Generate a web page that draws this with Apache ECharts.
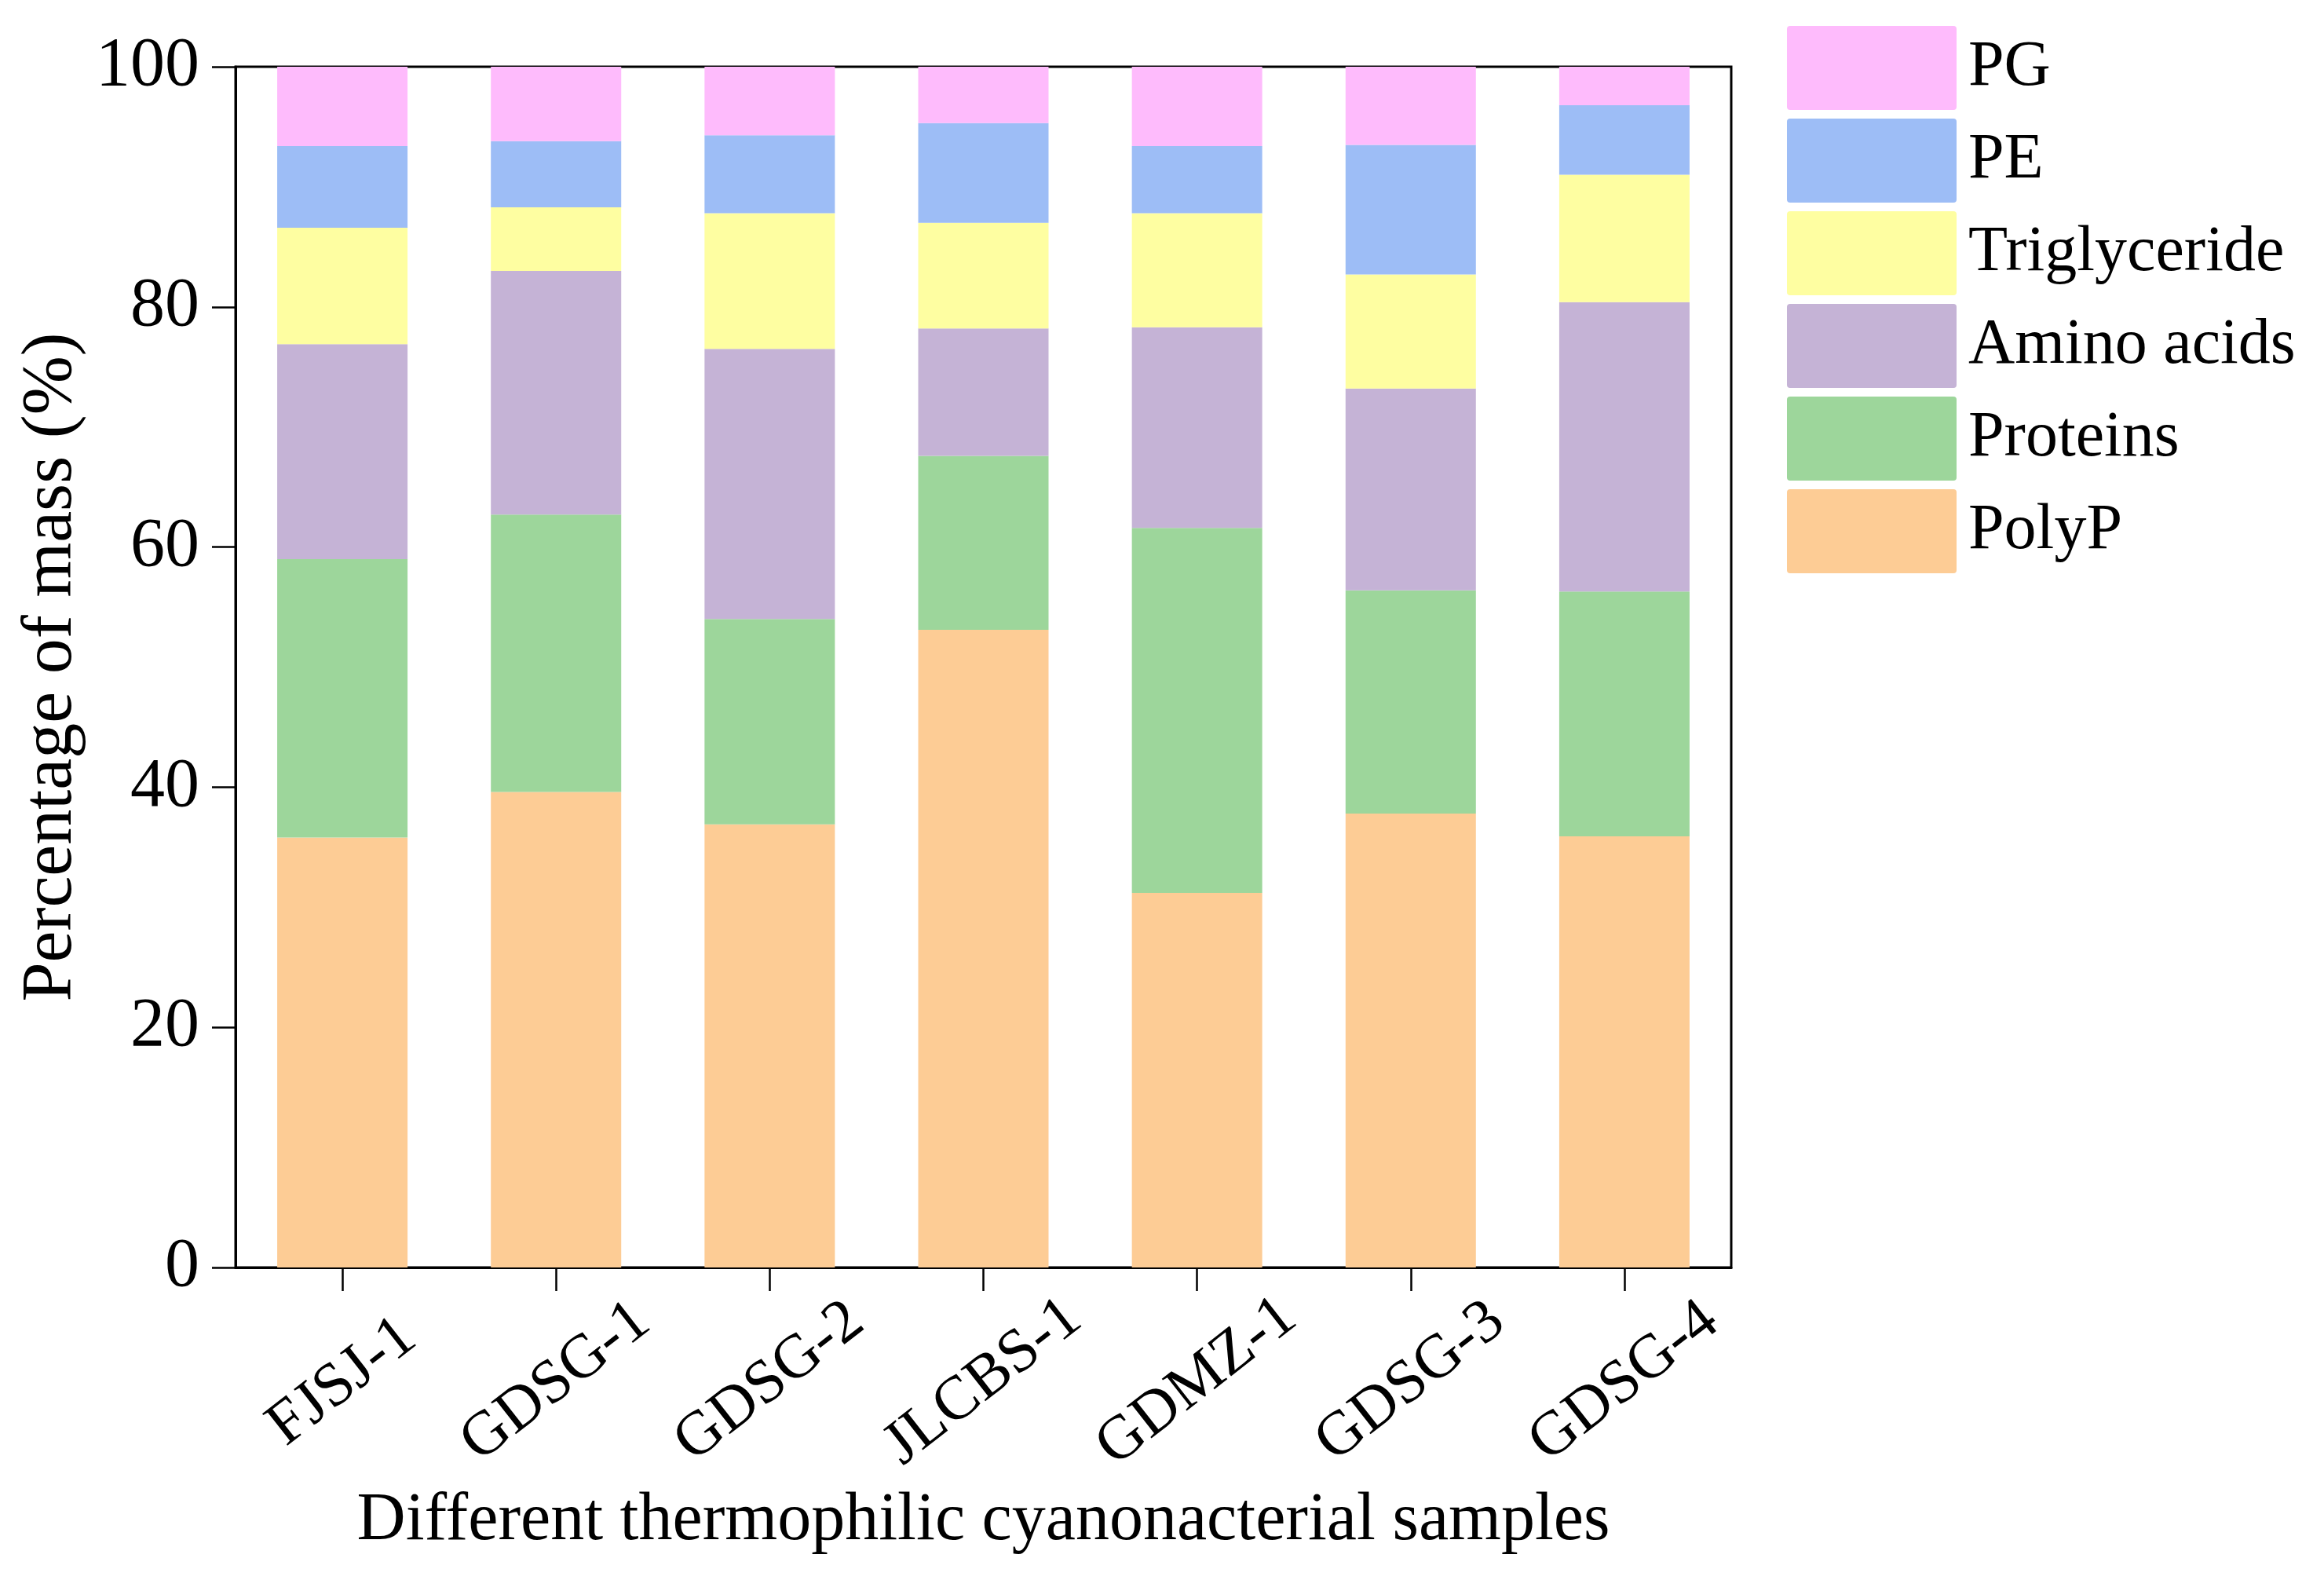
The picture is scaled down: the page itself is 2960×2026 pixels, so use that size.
<!DOCTYPE html>
<html>
<head>
<meta charset="utf-8">
<script src="https://cdn.jsdelivr.net/npm/echarts@6/dist/echarts.min.js"></script>
<style>
html,body{margin:0;padding:0;background:#fff;}
#chart{width:2960px;height:2026px;}
</style>
</head>
<body>
<div id="chart"></div>
<script>
const categories = ['FJSJ-1','GDSG-1','GDSG-2','JLCBS-1','GDMZ-1','GDSG-3','GDSG-4'];
const polyP      = [35.8, 39.6, 36.9, 53.1, 31.2, 37.8, 35.9];
const proteins   = [23.2, 23.1, 17.1, 14.5, 30.4, 18.6, 20.4];
const aminoAcids = [17.9, 20.3, 22.5, 10.6, 16.7, 16.8, 24.1];
const triglyceride = [9.7, 5.3, 11.3, 8.8, 9.5, 9.5, 10.6];
const pe         = [6.8, 5.5, 6.5, 8.3, 5.6, 10.8, 5.8];
const pg         = [6.6, 6.2, 5.7, 4.7, 6.6, 6.5, 3.2];
const legendOrder = ['PG','PE','Triglyceride','Amino acids','Proteins','PolyP'];

const FONT = '"Liberation Serif", "Times New Roman", serif';
const seriesDefs = [
  {name:'PolyP', data:polyP, color:'#FDCC95'},
  {name:'Proteins', data:proteins, color:'#9DD69B'},
  {name:'Amino acids', data:aminoAcids, color:'#C5B3D6'},
  {name:'Triglyceride', data:triglyceride, color:'#FEFEA1'},
  {name:'PE', data:pe, color:'#9DBDF6'},
  {name:'PG', data:pg, color:'#FEBBFC'}
];
const legendIcon = 'path://M4,0 H212 Q216,0 216,4 V103 Q216,107 212,107 H4 Q0,107 0,103 V4 Q0,0 4,0 Z';

const chart = echarts.init(document.getElementById('chart'));
chart.setOption({
  animation:false,
  backgroundColor:'#fff',
  textStyle:{fontFamily:FONT,color:'#000'},
  grid:{left:300,right:755,top:85,bottom:412,show:true,borderColor:'#000',borderWidth:3,backgroundColor:'transparent'},
  legend:{
    orient:'vertical',left:2271,top:28,
    data:legendOrder,
    itemWidth:216,itemHeight:107,itemGap:11,
    icon:legendIcon,
    textStyle:{fontFamily:FONT,fontSize:82,color:'#000',padding:[0,0,0,10]},
    selectedMode:false
  },
  xAxis:{
    type:'category',data:categories,
    axisLine:{lineStyle:{color:'#000',width:3}},
    axisTick:{show:true,alignWithLabel:true,length:30,lineStyle:{color:'#000',width:2.5}},
    axisLabel:{rotate:38,interval:0,fontFamily:FONT,fontSize:79,color:'#000',
      align:'center',verticalAlign:'middle',margin:146},
    name:'Different thermophilic cyanonacterial samples',
    nameLocation:'middle',nameGap:280,
    nameTextStyle:{fontFamily:FONT,fontSize:86,color:'#000'}
  },
  yAxis:{
    type:'value',min:0,max:100,interval:20,
    splitLine:{show:false},
    axisLine:{show:true,lineStyle:{color:'#000',width:3}},
    axisTick:{show:true,length:30,lineStyle:{color:'#000',width:2.5}},
    axisLabel:{fontFamily:FONT,fontSize:88,color:'#000',margin:46},
    name:'Percentage of mass (%)',
    nameLocation:'middle',nameGap:183,
    nameTextStyle:{fontFamily:FONT,fontSize:90,color:'#000'}
  },
  series:seriesDefs.map(s=>({
    name:s.name,type:'bar',stack:'total',data:s.data,
    barWidth:'61%',
    itemStyle:{color:s.color},
    emphasis:{disabled:true}
  }))
});
</script>
</body>
</html>
